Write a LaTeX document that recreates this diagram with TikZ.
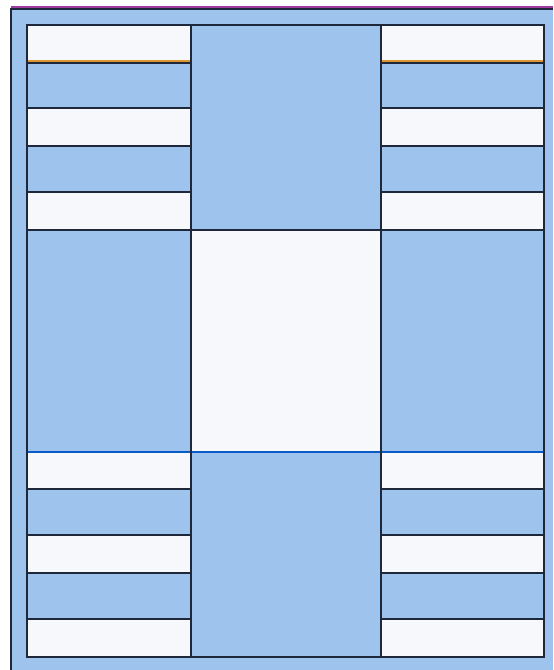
\documentclass[tikz,border=0pt]{standalone}
\usepackage{tikz}
\definecolor{bgblue}{RGB}{158,195,236}
\definecolor{cellwhite}{RGB}{247,248,251}
\definecolor{lineink}{RGB}{30,40,58}
\definecolor{orangeline}{RGB}{222,150,50}
\definecolor{blueline}{RGB}{10,90,200}
\definecolor{purpleline}{RGB}{160,60,160}
\tikzset{
  whitecell/.style={fill=cellwhite},
  gridline/.style={draw=lineink, line width=1.5pt},
  frameline/.style={draw=lineink, line width=1.6pt},
}
\begin{document}
\begin{tikzpicture}[x=0.75pt,y=-0.75pt]
\useasboundingbox (0,0) rectangle (553,670);
\fill[white] (0,0) rectangle (553,670);
% outer light-blue field and frame
\fill[bgblue] (11,9) rectangle (553,670);
\draw[purpleline, line width=1.2pt] (11,7.3) -- (553,7.3);
\draw[frameline] (11,670) -- (11,9) -- (553,9);
% inner grid fill
\fill[bgblue] (27,25) rectangle (544,657);
% white cells, left and right columns
\foreach \ya/\yb in {25/62,108/146,192/230,452/489,535/573,619/657}{
  \fill[whitecell] (27,\ya) rectangle (191,\yb);
  \fill[whitecell] (381,\ya) rectangle (544,\yb);
}
% white centre square
\fill[whitecell] (191,230) rectangle (381,452);
% horizontal lines in side columns
\foreach \y in {108,146,192,489,535,573,619}{
  \draw[gridline] (27,\y) -- (191,\y);
  \draw[gridline] (381,\y) -- (544,\y);
}
\draw[gridline] (27,62.8) -- (191,62.8);
\draw[gridline] (381,62.8) -- (544,62.8);
\draw[orangeline, line width=1pt] (27,61) -- (191,61);
\draw[orangeline, line width=1pt] (381,61) -- (544,61);
% full-width lines
\draw[gridline] (27,230) -- (544,230);
\draw[blueline, line width=1.6pt] (27,452) -- (544,452);
% vertical dividers
\draw[gridline] (191,25) -- (191,657);
\draw[gridline] (381,25) -- (381,657);
% inner frame
\draw[gridline] (27,25) rectangle (544,657);
\end{tikzpicture}
\end{document}
